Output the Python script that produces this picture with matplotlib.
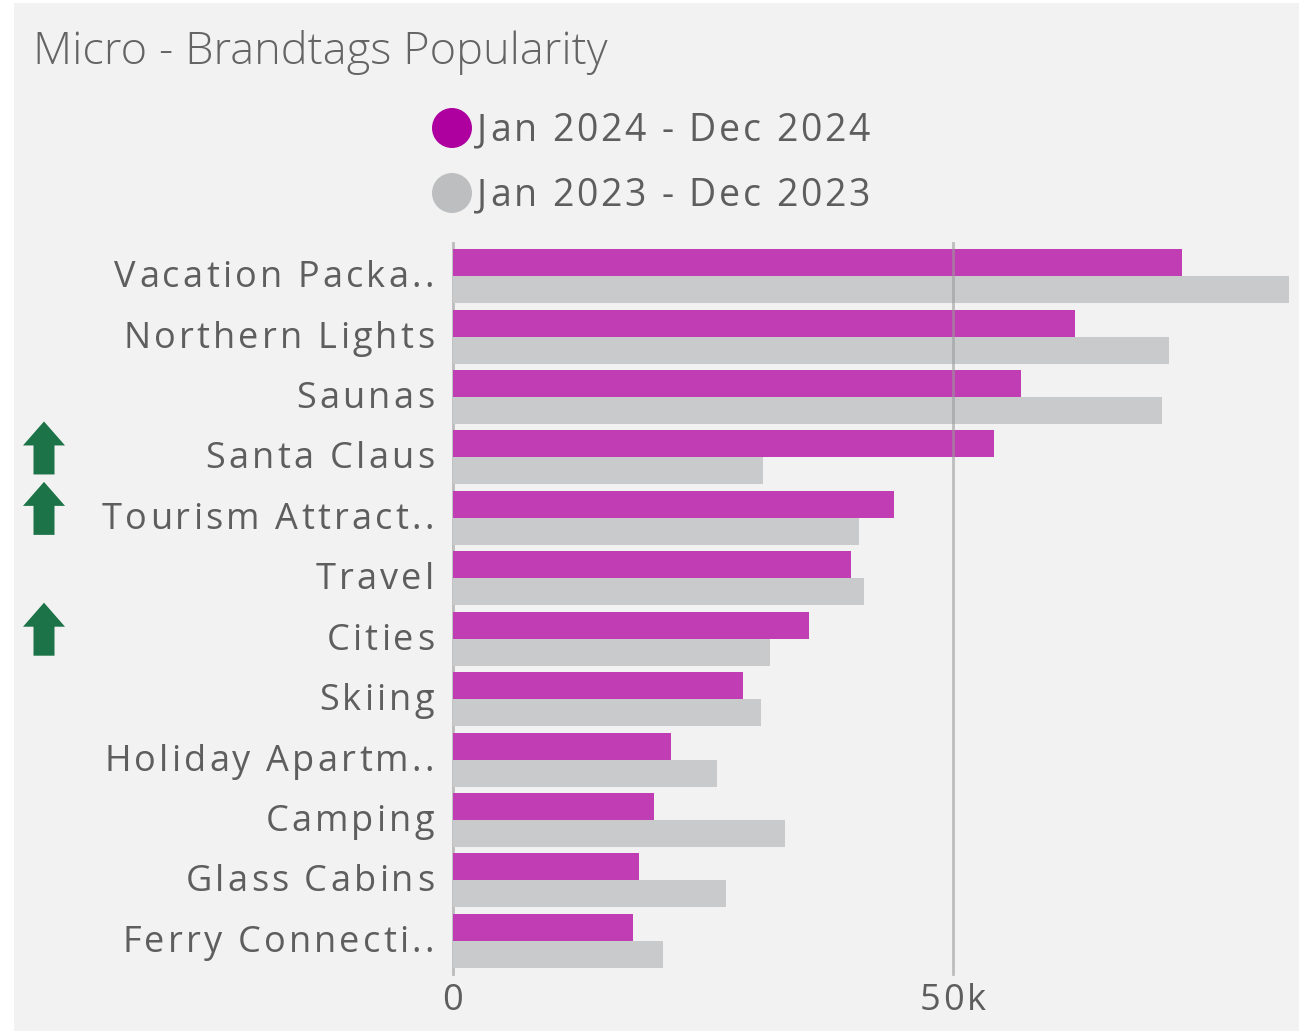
import matplotlib
matplotlib.use("Agg")
import matplotlib.pyplot as plt
from matplotlib.font_manager import FontProperties
from matplotlib.patches import Rectangle, Ellipse, Polygon
import numpy as np

categories = ["Vacation Packa..", "Northern Lights", "Saunas", "Santa Claus",
              "Tourism Attract..", "Travel", "Cities", "Skiing",
              "Holiday Apartm..", "Camping", "Glass Cabins", "Ferry Connecti.."]
values_2024 = [72.9, 62.2, 56.8, 54.1, 44.1, 39.8, 35.6, 29.0, 21.8, 20.1, 18.6, 18.0]
values_2023 = [83.6, 71.6, 70.9, 31.0, 40.6, 41.1, 31.7, 30.8, 26.4, 33.2, 27.3, 21.0]
series_labels = ["Jan 2024 - Dec 2024", "Jan 2023 - Dec 2023"]
xticks = [0, 50]
xtick_labels = ["0", "50k"]
title = "Micro - Brandtags Popularity"

C24 = "#c13db3"
C23 = "#c9cacc"
LEG24 = "#ad009f"
LEG23 = "#bdbebf"
TXT = "#5e5e5e"
BG = "#f2f2f2"
GREEN = "#1b7347"

W, H = 1299, 1034
fig = plt.figure(figsize=(W / 100, H / 100), dpi=100, facecolor="white")
fig.patches.append(Rectangle((14 / W, 3 / H), (W - 14) / W, (1031 - 3) / H,
                             transform=fig.transFigure, facecolor=BG,
                             edgecolor="none", zorder=-5))

ax_l, ax_r, ax_t, ax_b = 453, 1293, 246, 971
ax = fig.add_axes([ax_l / W, 1 - ax_b / H, (ax_r - ax_l) / W, (ax_b - ax_t) / H])
ax.set_zorder(2)
ax.set_facecolor("none")
n = len(categories)
y = np.arange(n)
bh = 0.447
ax.barh(y - bh / 2, values_2024, height=bh, color=C24, zorder=2)
ax.barh(y + bh / 2, values_2023, height=bh, color=C23, zorder=2)
ax.set_xlim(0, 84)
ax.set_ylim(n - 0.5, -0.5)
for s in ax.spines.values():
    s.set_visible(False)
ax.set_xticks([])
ax.set_yticks([])
ax.axvline(0, ymin=-0.004, ymax=1.004, color="#bcbcbc", lw=2, zorder=1,
           clip_on=False)
for t in xticks[1:]:
    ax.axvline(t, ymin=-0.004, ymax=1.004, color="#9a9a9a", lw=2, alpha=0.6,
               zorder=3, clip_on=False)

renderer = fig.canvas.get_renderer()


def spaced(x_px, y_base_px, s, size, color, ha="left", spacing=3.0,
           weight="normal", family="Open Sans"):
    """x_px, y_base_px in image pixels (y from top)."""
    fp = FontProperties(family=family, size=size, weight=weight)

    def wid(t):
        return renderer.get_text_width_height_descent(t, fp, ismath=False)[0]

    base = wid("||")
    offs = [wid("|" + s[:i] + "|") - base for i in range(len(s) + 1)]
    total = offs[-1] + (len(s) - 1) * spacing
    if ha == "right":
        start = x_px - total
    elif ha == "center":
        start = x_px - total / 2
    else:
        start = x_px
    for i, c in enumerate(s):
        if c == " ":
            continue
        fig.text((start + offs[i] + i * spacing) / W, 1 - y_base_px / H, c,
                 fontproperties=fp, color=color, ha="left", va="baseline",
                 zorder=5)


def data_to_px(xv, yv):
    dx, dy = ax.transData.transform((xv, yv))
    return dx, H - dy


# category labels
for i, lab in enumerate(categories):
    _, cy = data_to_px(0, i)
    spaced(434, cy + 11, lab, 26, TXT, ha="right", spacing=3.2)

# x tick labels
for t, lab in zip(xticks, xtick_labels):
    tx, _ = data_to_px(t, 0)
    spaced(tx, 1010, lab, 26, TXT, ha="center", spacing=3.0)

# title
fig.text(33 / W, 1 - 64 / H, title, family="Open Sans", weight="light",
         size=32.6, color="#646464", ha="left", va="baseline", zorder=5)

# legend
for k, (lab, col) in enumerate(zip(series_labels, [LEG24, LEG23])):
    cy = 128 + 65 * k
    fig.patches.append(Ellipse((452 / W, 1 - cy / H), 40 / W, 40 / H,
                               transform=fig.transFigure, facecolor=col,
                               edgecolor="none", zorder=5))
    spaced(477, cy + 13, lab, 27, TXT, ha="left", spacing=2.8)

# green up arrows for categories that increased
for i in range(n):
    if values_2024[i] > values_2023[i]:
        _, cy = data_to_px(0, i)
        cx = 44
        top = cy - 36
        bot = cy + 17
        head = top + 24
        pts = [(cx, top), (cx + 21, head), (cx + 10.5, head), (cx + 10.5, bot),
               (cx - 10.5, bot), (cx - 10.5, head), (cx - 21, head)]
        pts = [(px / W, 1 - py / H) for px, py in pts]
        fig.patches.append(Polygon(pts, closed=True, transform=fig.transFigure,
                                   facecolor=GREEN, edgecolor="none", zorder=5))

fig.savefig("out.png", dpi=100, facecolor="white")
